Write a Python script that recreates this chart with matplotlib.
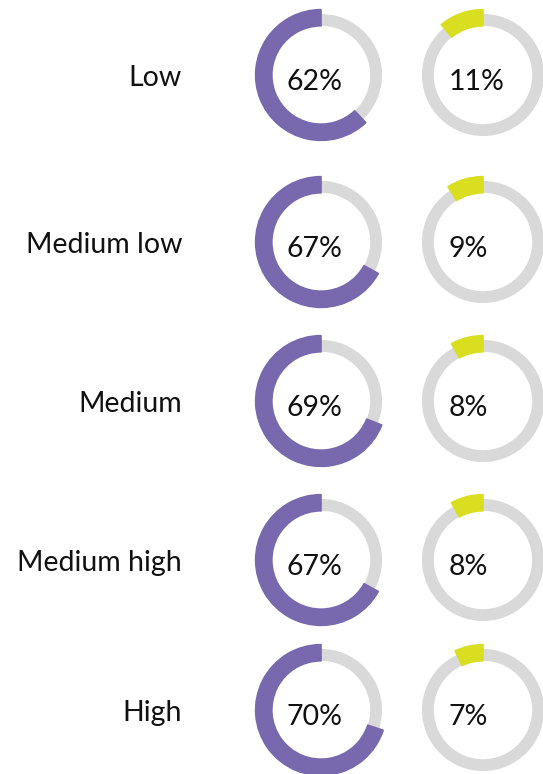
import matplotlib
matplotlib.use('agg')
import matplotlib.pyplot as plt

# data
categories = ["Low", "Medium low", "Medium", "Medium high", "High"]
share_purple = [62, 67, 69, 67, 70]
share_green = [11, 9, 8, 8, 7]

PURPLE = '#7868ad'
GREEN = '#d9df20'
GREY = '#d9d9d9'

plt.rcParams['font.family'] = ['Lato', 'DejaVu Sans']

W, H = 543, 774
fig = plt.figure(figsize=(W / 100, H / 100), dpi=100)

# layout in pixels
row_y = [75, 242, 401, 560, 710]
col_x = [321, 483]
R = 66  # outer radius of coloured arc, px


def donut(cx, cy, value, color):
    ax = fig.add_axes([(cx - R) / W, 1 - (cy + R) / H, 2 * R / W, 2 * R / H])
    # grey background ring (slightly thinner)
    ax.pie([1], radius=0.925, colors=[GREY], startangle=90,
           wedgeprops=dict(width=0.18, linewidth=0))
    # coloured share, counterclockwise from 12 o'clock
    ax.pie([value, 100 - value], radius=0.99, colors=[color, 'none'], startangle=90,
           counterclock=True,
           wedgeprops=dict(width=0.245, linewidth=1.2, edgecolor='none', joinstyle='round'))
    wedges = ax.patches
    wedges[1].set_edgecolor(color)
    ax.set_xlim(-1, 1)
    ax.set_ylim(-1, 1)
    ax.set_aspect('equal')
    ax.axis('off')
    ax.text(-0.52, -0.1, f"{value}%", ha='left', va='center', fontsize=20.5,
            color='#111111')
    return ax


for i, cat in enumerate(categories):
    cy = row_y[i] + 3
    fig.text(182 / W, 1 - cy / H, cat, ha='right', va='center', fontsize=20.5, color='#111111')
    donut(col_x[0], row_y[i], share_purple[i], PURPLE)
    donut(col_x[1], row_y[i], share_green[i], GREEN)

plt.savefig('out.png', dpi=100)
plt.close()
